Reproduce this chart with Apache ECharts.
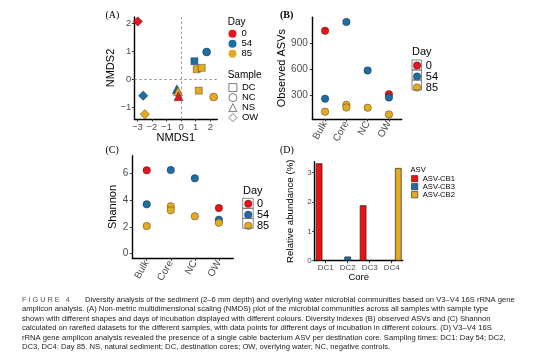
<!DOCTYPE html>
<html><head><meta charset="utf-8">
<script src="https://cdn.jsdelivr.net/npm/echarts@6/dist/echarts.min.js"></script>
<style>html,body{margin:0;padding:0;background:#fff}#c{width:554px;height:364px}</style>
</head><body><div id="c"></div>
<script>
// ---------- data ----------
const dayNames = ['0', '54', '85'];
const dayColors = ['#E8141C', '#1D6FA3', '#E3AA22'];
const sampleNames = ['DC', 'NC', 'NS', 'OW'];

// Panel A: NMDS
const nmdsDay =    ['0', '0', '54', '54', '54', '54', '85', '85', '85', '85', '85', '85'];
const nmdsSample = ['OW', 'NS', 'OW', 'NC', 'DC', 'NS', 'OW', 'NC', 'DC', 'DC', 'DC', 'NS'];
const nmds1 = [-2.97, -0.18, -2.60, 1.75, 0.91, -0.30, -2.49, 2.23, 1.07, 1.41, 1.21, -0.21];
const nmds2 = [2.08, -0.61, -0.59, 0.98, 0.65, -0.36, -1.26, -0.64, 0.36, 0.41, -0.41, -0.43];
const nmdsTicksX = [-3, -2, -1, 0, 1, 2];
const nmdsTicksY = [-1, 0, 1, 2];

// Panels B & C: diversity
const sampleCats = ['Bulk', 'Core', 'NC', 'OW'];
const divDay = ['0', '0', '54', '54', '54', '54', '85', '85', '85', '85', '85'];
const divCat = ['Bulk', 'OW', 'Bulk', 'Core', 'NC', 'OW', 'Bulk', 'Core', 'Core', 'NC', 'OW'];
const observedASVs = [1041, 311, 259, 1144, 585, 274, 110, 190, 158, 156, 79];
const shannon = [6.25, 3.42, 3.70, 6.27, 5.65, 2.55, 2.07, 3.55, 3.25, 2.80, 2.32];
const obsTicks = [300, 600, 900];
const shanTicks = [0, 2, 4, 6];

// Panel D: relative abundance
const cores = ['DC1', 'DC2', 'DC3', 'DC4'];
const asvNames = ['ASV-CB1', 'ASV-CB3', 'ASV-CB2'];
const asvColors = ['#EE1111', '#1D6FA3', '#E3AA22'];
const asvCB1 = [3.32, null, 1.89, null];
const asvCB3 = [null, 0.14, null, null];
const asvCB2 = [null, null, null, 3.16];
const abundTicks = [0, 1, 2, 3];

const captionLines = [
  'Diversity analysis of the sediment (2\u20136 mm depth) and overlying water microbial communities based on V3\u2013V4 16S rRNA gene',
  'amplicon analysis. (A) Non-metric multidimensional scaling (NMDS) plot of the microbial communities across all samples with sample type',
  'shown with different shapes and days of incubation displayed with different colours. Diversity indexes (B) observed ASVs and (C) Shannon',
  'calculated on rarefied datasets for the different samples, with data points for different days of incubation in different colours. (D) V3\u2013V4 16S',
  'rRNA gene amplicon analysis revealed the presence of a single cable bacterium ASV per destination core. Sampling times: DC1: Day 54; DC2,',
  'DC3, DC4: Day 85. NS, natural sediment; DC, destination cores; OW, overlying water; NC, negative controls.'
];

// ---------- styling ----------
const FONT = "'Liberation Sans', Arial, sans-serif";
const SERIF = "'Liberation Serif', 'Times New Roman', serif";
const TICK = '#4D4D4D';
const symMap = {DC: 'rect', NC: 'circle', NS: 'triangle', OW: 'diamond'};
const symSize = {DC: 7, NC: 8, NS: 9, OW: 9.5};
const ptBorder = {borderColor: 'rgba(0,0,0,0.55)', borderWidth: 0.6};

function valAxis(gridIndex, o) {
  return Object.assign({
    type: 'value', gridIndex,
    splitLine: {show: false},
    axisLine: {show: true, onZero: false, lineStyle: {color: '#000', width: 1.4}},
    axisTick: {show: true, length: 2.5, lineStyle: {color: '#333', width: 1}},
    axisLabel: {color: TICK, fontFamily: FONT},
    nameTextStyle: {color: '#000', fontFamily: FONT}
  }, o);
}
const minus = v => String(v).replace('-', '\u2212');

const chart = echarts.init(document.getElementById('c'), null, {renderer: 'canvas'});

const grids = [
  {left: 134.3, top: 17, width: 83, height: 102},
  {left: 312.3, top: 17.3, width: 89.4, height: 101.7},
  {left: 132.3, top: 155.7, width: 101, height: 102.6},
  {left: 314.7, top: 161.7, width: 88, height: 99}
];

const xAxes = [
  valAxis(0, {min: -3.21, max: 2.48, name: 'NMDS1', nameLocation: 'middle', nameGap: 12,
    nameTextStyle: {color: '#000', fontFamily: FONT, fontSize: 11},
    axisTick: {show: true, length: 2.5, customValues: nmdsTicksX, lineStyle: {color: '#333'}},
    axisLabel: {customValues: nmdsTicksX, formatter: minus, color: TICK, fontFamily: FONT, fontSize: 9.5, margin: 3}}),
  valAxis(1, {min: 0.4, max: 4.6,
    axisTick: {show: true, length: 2.5, customValues: [1, 2, 3, 4], lineStyle: {color: '#333'}},
    axisLabel: {customValues: [1, 2, 3, 4], formatter: v => sampleCats[v - 1], rotate: 60, margin: 3,
      color: TICK, fontFamily: FONT, fontSize: 10}}),
  valAxis(2, {min: 0.4, max: 4.6,
    axisTick: {show: true, length: 2.5, customValues: [1, 2, 3, 4], lineStyle: {color: '#333'}},
    axisLabel: {customValues: [1, 2, 3, 4], formatter: v => sampleCats[v - 1], rotate: 60, margin: 3,
      color: TICK, fontFamily: FONT, fontSize: 10}}),
  {type: 'category', gridIndex: 3, data: cores, name: 'Core', nameLocation: 'middle', nameGap: 10.5,
    nameTextStyle: {color: '#000', fontFamily: FONT, fontSize: 9.5},
    axisLine: {show: true, onZero: false, lineStyle: {color: '#000', width: 1.4}},
    axisTick: {show: true, alignWithLabel: true, length: 2.5, lineStyle: {color: '#333'}},
    axisLabel: {color: TICK, fontFamily: FONT, fontSize: 8, margin: 3}}
];

const yAxes = [
  valAxis(0, {min: -1.43, max: 2.24, name: 'NMDS2', nameLocation: 'middle', nameGap: 12,
    nameTextStyle: {color: '#000', fontFamily: FONT, fontSize: 11},
    axisTick: {show: true, length: 2.5, customValues: nmdsTicksY, lineStyle: {color: '#333'}},
    axisLabel: {customValues: nmdsTicksY, formatter: minus, color: TICK, fontFamily: FONT, fontSize: 9.5, margin: 3}}),
  valAxis(1, {min: 26, max: 1197, name: 'Observed ASVs', nameLocation: 'middle', nameGap: 22.8,
    nameTextStyle: {color: '#000', fontFamily: FONT, fontSize: 11},
    axisTick: {show: true, length: 2.5, customValues: obsTicks, lineStyle: {color: '#333'}},
    axisLabel: {customValues: obsTicks, color: TICK, fontFamily: FONT, fontSize: 10, margin: 4.5}}),
  valAxis(2, {min: -0.35, max: 7.35, name: 'Shannon', nameLocation: 'middle', nameGap: 10.1,
    nameTextStyle: {color: '#000', fontFamily: FONT, fontSize: 11},
    axisTick: {show: true, length: 2.5, customValues: shanTicks, lineStyle: {color: '#333'}},
    axisLabel: {customValues: shanTicks, color: TICK, fontFamily: FONT, fontSize: 10, margin: 4}}),
  valAxis(3, {min: 0, max: 3.375, name: 'Relative abundance (%)', nameLocation: 'middle', nameGap: 19.5,
    nameTextStyle: {color: '#000', fontFamily: FONT, fontSize: 9.7},
    axisTick: {show: true, length: 2.5, customValues: abundTicks, lineStyle: {color: '#333'}},
    axisLabel: {customValues: abundTicks, color: TICK, fontFamily: FONT, fontSize: 8, margin: 3}})
];

const series = [];
// reference dashed lines in A
series.push({type: 'scatter', name: 'ref', xAxisIndex: 0, yAxisIndex: 0, data: [], z: 1,
  markLine: {silent: true, symbol: 'none', label: {show: false}, animation: false,
    lineStyle: {type: [2.5, 2.5], color: '#808080', width: 0.8},
    data: [{xAxis: 0}, {yAxis: 0}]}});
// A points
const zOrder = {'0': 5, '54': 3, '85': 4};
dayNames.forEach((d, i) => {
  series.push({
    type: 'scatter', name: d, xAxisIndex: 0, yAxisIndex: 0, z: zOrder[d],
    data: nmds1.map((x, k) => [x, nmds2[k], nmdsSample[k], nmdsDay[k]]).filter(p => p[3] === d),
    symbol: v => symMap[v[2]], symbolSize: v => symSize[v[2]],
    itemStyle: Object.assign({color: dayColors[i], opacity: 1}, ptBorder)
  });
});
// Sample legend dummies
sampleNames.forEach(s => series.push({type: 'scatter', name: s, xAxisIndex: 0, yAxisIndex: 0, data: [],
  symbol: symMap[s], itemStyle: {color: '#fff', borderColor: '#333', borderWidth: 0.8}}));
// B and C points
[[1, observedASVs], [2, shannon]].forEach(([gi, vals]) => {
  dayNames.forEach((d, i) => {
    series.push({
      type: 'scatter', name: d, xAxisIndex: gi, yAxisIndex: gi, symbol: 'circle', symbolSize: 7.5,
      data: vals.map((v, k) => [sampleCats.indexOf(divCat[k]) + 1, v, divDay[k]]).filter(p => p[2] === d),
      itemStyle: Object.assign({color: dayColors[i], opacity: 1}, ptBorder)
    });
  });
});
// D bars
[asvCB1, asvCB3, asvCB2].forEach((arr, i) => {
  series.push({type: 'bar', name: asvNames[i], xAxisIndex: 3, yAxisIndex: 3, data: arr,
    barCategoryGap: '10%', barGap: '0%',
    itemStyle: {color: asvColors[i], borderColor: '#222', borderWidth: 0.7}});
});

const legendBase = {orient: 'vertical', padding: 0, itemGap: 0, selectedMode: false};
const legends = [
  Object.assign({}, legendBase, {left: 228.5, top: 28.8, itemWidth: 8, itemHeight: 8,
    textStyle: {fontSize: 9.5, lineHeight: 9.8, color: '#000', fontFamily: FONT},
    data: dayNames.map((d, i) => ({name: d, icon: 'circle', itemStyle: {color: dayColors[i], borderWidth: 0}}))}),
  Object.assign({}, legendBase, {left: 228.5, top: 82.6, itemWidth: 8, itemHeight: 8,
    textStyle: {fontSize: 9.5, lineHeight: 9.45, color: '#000', fontFamily: FONT},
    data: sampleNames.map(s => ({name: s, icon: symMap[s],
      itemStyle: {color: '#fff', borderColor: '#333', borderWidth: 0.8}}))}),
  Object.assign({}, legendBase, {left: 413, top: 60, itemWidth: 7.5, itemHeight: 7.5,
    textStyle: {fontSize: 11, lineHeight: 10, color: '#000', fontFamily: FONT},
    data: dayNames.map((d, i) => ({name: d, icon: 'circle', itemStyle: Object.assign({color: dayColors[i]}, ptBorder)}))}),
  Object.assign({}, legendBase, {left: 244.2, top: 198.3, itemWidth: 7.5, itemHeight: 7.5,
    textStyle: {fontSize: 11, lineHeight: 10, color: '#000', fontFamily: FONT},
    data: dayNames.map((d, i) => ({name: d, icon: 'circle', itemStyle: Object.assign({color: dayColors[i]}, ptBorder)}))}),
  Object.assign({}, legendBase, {left: 411.2, top: 174.7, itemWidth: 6.3, itemHeight: 6.3,
    textStyle: {fontSize: 7.6, lineHeight: 7.2, color: '#000', fontFamily: FONT},
    data: asvNames.map((n, i) => ({name: n, icon: 'rect',
      itemStyle: {color: asvColors[i], borderColor: '#222', borderWidth: 0.6}}))})
];

function txt(x, y, text, size, opts) {
  return {type: 'text', x, y, silent: true, z: 100, style: Object.assign({
    text, fontSize: size, fontFamily: FONT, fill: '#000', align: 'left', verticalAlign: 'middle'}, opts || {})};
}
function keyBox(x, y, w, h) {
  return {type: 'rect', silent: true, z: 50, shape: {x, y, width: w, height: h},
    style: {fill: 'none', stroke: '#6a6a6a', lineWidth: 0.8}};
}
const graphic = [
  txt(105.5, 15.7, '(A)', 10, {fontFamily: SERIF}),
  txt(280, 15.7, '(B)', 10, {fontFamily: SERIF, fontWeight: 'bold'}),
  txt(105.5, 150.7, '(C)', 10, {fontFamily: SERIF}),
  txt(280, 150.2, '(D)', 10, {fontFamily: SERIF}),
  txt(227.7, 22.7, 'Day', 10),
  txt(227.7, 75, 'Sample', 10),
  txt(412, 51.7, 'Day', 11),
  txt(243, 190.7, 'Day', 11),
  txt(410.5, 169.5, 'ASV', 7.6),
  txt(22, 299.7, 'F I G U R E   4', 7.3, {fill: '#555'})
];
[0, 1, 2].forEach(i => {
  graphic.push(keyBox(412, 60 + i * 10, 9.5, 10));
  graphic.push(keyBox(242.7, 198.3 + i * 10, 10.5, 10));
});
captionLines.forEach((line, i) => {
  graphic.push(txt(i === 0 ? 85 : 22, 299.7 + i * 9.52, line, 7.65, {fill: '#222'}));
});

chart.setOption({
  animation: false,
  backgroundColor: '#fff',
  textStyle: {fontFamily: FONT},
  grid: grids,
  xAxis: xAxes,
  yAxis: yAxes,
  legend: legends,
  series,
  graphic
});
</script>
</body></html>
